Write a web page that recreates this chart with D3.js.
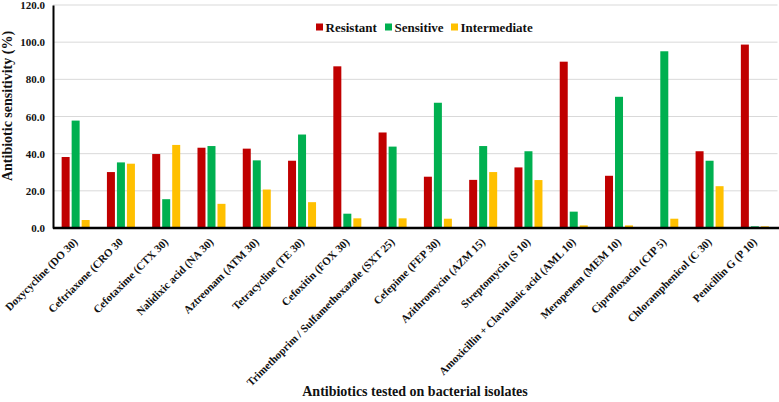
<!DOCTYPE html>
<html>
<head>
<meta charset="utf-8">
<script src="https://cdn.jsdelivr.net/npm/d3@7"></script>
<style>
  body { margin: 0; background: white; }
  svg text { font-family: "Liberation Serif", "Times New Roman", serif; font-weight: bold; fill: #111; }
  .gridline { stroke: #d9d9d9; stroke-width: 1; }
</style>
</head>
<body>
<div id="chart"></div>
<script>
var antibiotics = [
  "Doxycycline (DO 30)", "Ceftriaxone (CRO 30", "Cefotaxime (CTX 30)", "Nalidixic acid (NA 30)",
  "Aztreonam (ATM 30)", "Tetracycline (TE 30)", "Cefoxitin (FOX 30)",
  "Trimethoprim / Sulfamethoxazole (SXT 25)", "Cefepime (FEP 30)", "Azithromycin (AZM 15)",
  "Streptomycin (S 10)", "Amoxicillin + Clavulanic acid (AML 10)", "Meropenem (MEM 10)",
  "Ciprofloxacin (CIP 5)", "Chloramphenicol (C 30)", "Penicillin G (P 10)"
];
var resistant    = [38.2, 30.1, 39.8, 43.2, 42.7, 36.2, 87.0, 51.4, 27.6, 25.9, 32.6, 89.5, 28.1, 0.0, 41.3, 98.7];
var sensitive    = [57.8, 35.3, 15.5, 44.1, 36.4, 50.3, 7.7, 43.8, 67.4, 44.1, 41.3, 8.8, 70.6, 95.1, 36.2, 0.9];
var intermediate = [4.3, 34.6, 44.7, 13.0, 20.7, 13.9, 5.2, 5.2, 5.0, 30.1, 25.8, 1.4, 1.4, 5.0, 22.5, 0.9];
var seriesNames  = ["Resistant", "Sensitive", "Intermediate"];
var seriesColors = ["#C00000", "#00B050", "#FFC000"];
var yTicks = [0, 20, 40, 60, 80, 100, 120];

var W = 779, H = 402;
var plotL = 53, plotR = 777.5, plotT = 5, plotB = 228;

var svg = d3.select("#chart").append("svg")
  .attr("width", W)
  .attr("height", H);

var x = d3.scaleBand()
  .domain(antibiotics)
  .range([plotL, plotR]);

var x1 = d3.scaleBand()
  .domain(seriesNames)
  .range([-14, 14])
  .paddingInner(0.2);

var y = d3.scaleLinear()
  .domain([0, 120])
  .range([plotB, plotT]);

// gridlines
svg.append("g")
  .selectAll("line")
  .data(yTicks.slice(1))
  .enter().append("line")
  .attr("class", "gridline")
  .attr("x1", plotL)
  .attr("x2", plotR)
  .attr("y1", d => y(d))
  .attr("y2", d => y(d));

var allSeries = [resistant, sensitive, intermediate];
var rows = [];
antibiotics.forEach(function (a, i) {
  seriesNames.forEach(function (s, j) {
    rows.push({ name: a, series: s, color: seriesColors[j], value: allSeries[j][i] });
  });
});

svg.append("g")
  .selectAll("rect")
  .data(rows.filter(d => d.value > 0))
  .enter().append("rect")
  .attr("x", d => x(d.name) + x.bandwidth() / 2 + x1(d.series))
  .attr("width", x1.bandwidth())
  .attr("y", d => y(d.value))
  .attr("height", d => y(0) - y(d.value))
  .attr("fill", d => d.color);

// y axis
var yAxis = svg.append("g")
  .attr("transform", "translate(" + plotL + ",0)")
  .call(d3.axisLeft(y).tickValues(yTicks).tickFormat(d3.format(".1f")).tickSize(0).tickPadding(8));
yAxis.select(".domain").attr("stroke", "#000").attr("stroke-width", 2);
yAxis.selectAll("text").style("font-size", "11px");

// x axis
var xAxis = svg.append("g")
  .attr("transform", "translate(0," + plotB + ")")
  .call(d3.axisBottom(x).tickSize(0).tickSizeOuter(0));
xAxis.select(".domain").attr("d", "M" + plotL + ",0H" + W).attr("stroke", "#000").attr("stroke-width", 2.5);
xAxis.selectAll("text")
  .attr("transform", "translate(0,12)rotate(-45)")
  .attr("dy", "0.35em")
  .attr("y", 0)
  .style("text-anchor", "end")
  .style("font-size", "11px");

// axis titles
svg.append("text")
  .attr("transform", "translate(12,106)rotate(-90)")
  .attr("text-anchor", "middle")
  .style("font-size", "14px")
  .text("Antibiotic sensitivity (%)");

svg.append("text")
  .attr("x", 415)
  .attr("y", 396)
  .attr("text-anchor", "middle")
  .style("font-size", "14px")
  .text("Antibiotics tested on bacterial isolates");

// legend
var legendX = [316, 385, 451];
var legend = svg.append("g").selectAll("g")
  .data(seriesNames)
  .enter().append("g")
  .attr("transform", (d, i) => "translate(" + legendX[i] + ",27)");
legend.append("rect")
  .attr("x", 0).attr("y", -3.5)
  .attr("width", 7).attr("height", 7)
  .attr("fill", (d, i) => seriesColors[i]);
legend.append("text")
  .attr("x", 9.5).attr("dy", "0.35em")
  .style("font-size", "13px")
  .text(d => d);
</script>
</body>
</html>
